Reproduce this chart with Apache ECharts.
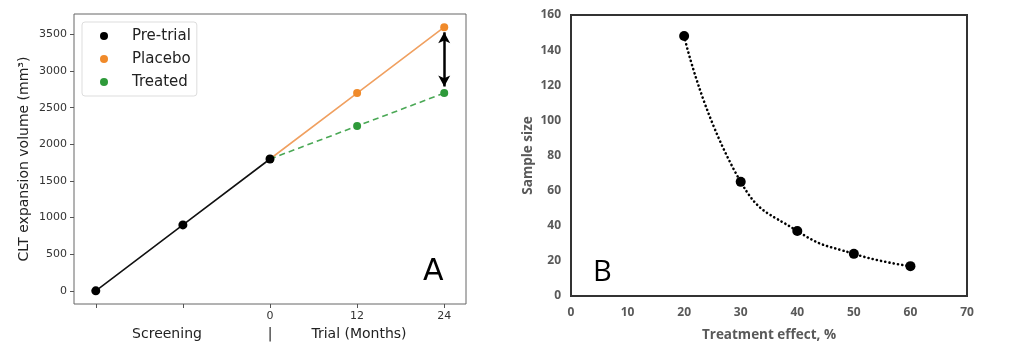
<!DOCTYPE html>
<html>
<head>
<meta charset="utf-8">
<script src="https://cdn.jsdelivr.net/npm/echarts@6/dist/echarts.min.js"></script>
<style>html,body{margin:0;padding:0;background:#fff;}#c{width:1024px;height:358px;}</style>
</head>
<body>
<div id="c"></div>
<script>
// Panel A data (x in months relative to trial start; screening points at -24, -12)
const aTickPositions = [-24, -12, 0, 12, 24];
const aTickLabels = [0, 12, 24];
const aYTicks = [0, 500, 1000, 1500, 2000, 2500, 3000, 3500];
const preTrialX = [-24, -12, 0];
const preTrialY = [0, 900, 1800];
const placeboX = [0, 12, 24];
const placeboY = [1800, 2700, 3600];
const treatedX = [0, 12, 24];
const treatedY = [1800, 2250, 2700];
const arrowX = 24;
const arrowFromTo = [3530, 2790];

// Panel B data
const effectPct = [20, 30, 40, 50, 60];
const sampleSize = [148, 65, 37, 24, 17];

const pair = (xs, ys) => xs.map((x, i) => [x, ys[i]]);
const FA = 'DejaVu Sans';
const FB = '"Open Sans", "Liberation Sans", sans-serif';

const chart = echarts.init(document.getElementById('c'));
chart.setOption({
  animation: false,
  backgroundColor: '#fff',
  grid: [
    {left: 74, top: 14, width: 392, height: 290, show: true, borderColor: '#666', borderWidth: 1, containLabel: false},
    {left: 571, top: 15, width: 396, height: 281, show: true, borderColor: '#333', borderWidth: 2, containLabel: false}
  ],
  legend: {
    data: ['Pre-trial', 'Placebo', 'Treated'],
    orient: 'vertical', left: 82, top: 22,
    backgroundColor: '#fff', borderColor: '#ddd', borderWidth: 1, borderRadius: 3,
    padding: [6, 6, 6, 18],
    icon: 'circle', itemWidth: 8, itemHeight: 8, itemGap: 7,
    textStyle: {fontFamily: FA, fontSize: 15, color: '#222', lineHeight: 16, padding: [0, 0, 0, 19]}
  },
  xAxis: [
    {gridIndex: 0, type: 'value', min: -27, max: 27,
     axisLine: {show: false, onZero: false}, splitLine: {show: false},
     axisTick: {show: true, length: 4, lineStyle: {color: '#555'}, customValues: aTickPositions},
     axisLabel: {customValues: aTickLabels, fontFamily: FA, fontSize: 11, color: '#333', margin: 7}},
    {gridIndex: 1, type: 'value', min: 0, max: 70, interval: 10,
     axisLine: {show: false, onZero: false}, splitLine: {show: false}, axisTick: {show: false},
     axisLabel: {fontFamily: FB, fontWeight: 'bold', fontSize: 12, color: '#595959', margin: 11},
     name: 'Treatment effect, %', nameLocation: 'middle', nameGap: 32,
     nameTextStyle: {fontFamily: FB, fontWeight: 'bold', fontSize: 13.5, color: '#595959'}}
  ],
  yAxis: [
    {gridIndex: 0, type: 'value', min: -180, max: 3780,
     axisLine: {show: false, onZero: false}, splitLine: {show: false},
     axisTick: {show: true, length: 4, lineStyle: {color: '#555'}, customValues: aYTicks},
     axisLabel: {customValues: aYTicks, formatter: v => String(v), fontFamily: FA, fontSize: 11, color: '#333', margin: 7},
     name: 'CLT expansion volume (mm³)', nameLocation: 'middle', nameGap: 43,
     nameTextStyle: {fontFamily: FA, fontSize: 14, color: '#222'}},
    {gridIndex: 1, type: 'value', min: 0, max: 160, interval: 20,
     axisLine: {show: false, onZero: false}, splitLine: {show: false}, axisTick: {show: false},
     axisLabel: {fontFamily: FB, fontWeight: 'bold', fontSize: 12, color: '#595959', margin: 10},
     name: 'Sample size', nameLocation: 'middle', nameGap: 36,
     nameTextStyle: {fontFamily: FB, fontWeight: 'bold', fontSize: 13.5, color: '#595959'}}
  ],
  series: [
    {name: 'Placebo', type: 'line', xAxisIndex: 0, yAxisIndex: 0, data: pair(placeboX, placeboY),
     color: '#f08a2a', symbol: 'circle', symbolSize: 8, z: 3,
     lineStyle: {color: '#f0a060', width: 1.6}, itemStyle: {color: '#f08a2a'},
     markLine: {silent: true, symbol: ['arrow', 'arrow'], symbolSize: [9, 11], label: {show: false},
       lineStyle: {color: '#000', width: 2.5, type: 'solid'},
       data: [[{coord: [arrowX, arrowFromTo[0]]}, {coord: [arrowX, arrowFromTo[1]]}]]}},
    {name: 'Treated', type: 'line', xAxisIndex: 0, yAxisIndex: 0, data: pair(treatedX, treatedY),
     color: '#2e9a3a', symbol: 'circle', symbolSize: 8, z: 3,
     lineStyle: {color: '#4aa855', width: 1.6, type: [6, 4]}, itemStyle: {color: '#2e9a3a'}},
    {name: 'Pre-trial', type: 'line', xAxisIndex: 0, yAxisIndex: 0, data: pair(preTrialX, preTrialY),
     color: '#000', symbol: 'circle', symbolSize: 9, z: 5,
     lineStyle: {color: '#111', width: 1.6}, itemStyle: {color: '#000'}},
    {name: 'B', type: 'line', xAxisIndex: 1, yAxisIndex: 1, data: pair(effectPct, sampleSize),
     smooth: 0.5, symbol: 'circle', symbolSize: 10,
     lineStyle: {color: '#000', width: 2.6, type: [0.1, 4.2], cap: 'round'}, itemStyle: {color: '#000'}}
  ],
  graphic: [
    {type: 'text', left: 423, top: 257, style: {text: 'A', fontFamily: FA, fontSize: 30, fill: '#000'}},
    {type: 'text', left: 593, top: 258, style: {text: 'B', fontFamily: '"Open Sans", sans-serif', fontSize: 29, fill: '#000'}},
    {type: 'text', x: 167, y: 334, style: {text: 'Screening', fontFamily: FA, fontSize: 14, fill: '#222', align: 'center', verticalAlign: 'middle'}},
    {type: 'text', x: 270, y: 334, style: {text: '|', fontFamily: FA, fontSize: 14, fill: '#222', align: 'center', verticalAlign: 'middle'}},
    {type: 'text', x: 359, y: 334, style: {text: 'Trial (Months)', fontFamily: FA, fontSize: 14, fill: '#222', align: 'center', verticalAlign: 'middle'}}
  ]
});
</script>
</body>
</html>
